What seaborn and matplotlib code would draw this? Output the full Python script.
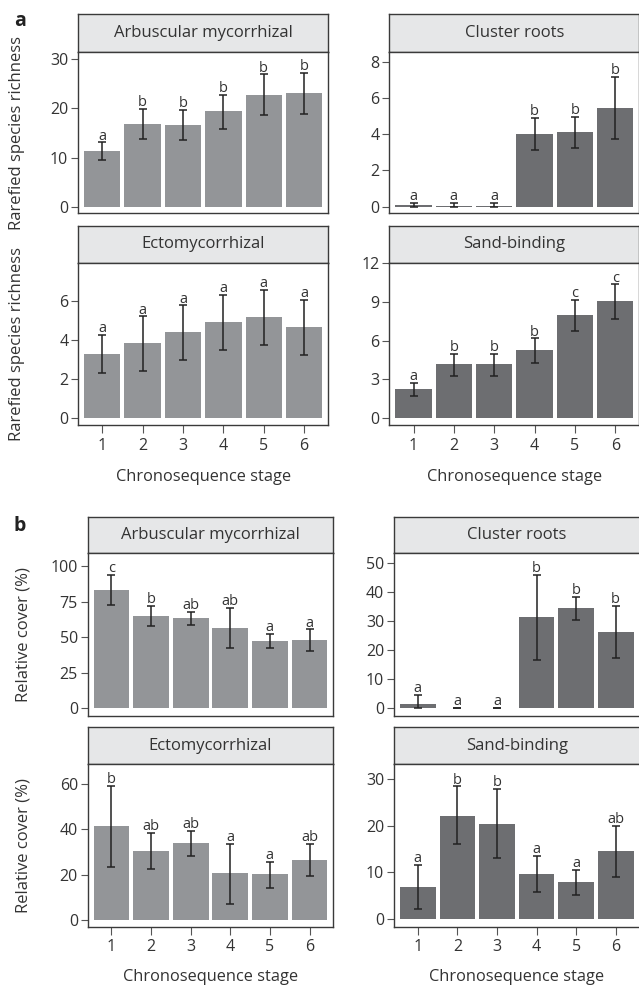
import matplotlib
matplotlib.use("Agg")
import matplotlib.pyplot as plt
import seaborn as sns
import pandas as pd
import numpy as np

sns.set_theme(style="white")
plt.rcParams['font.family'] = ['Open Sans', 'DejaVu Sans']

W, H = 639, 988
LIGHT = '#939598'
DARK = '#6d6e71'
STRIP = '#e6e7e8'
LINE = '#3a3a3a'
TEXT = '#333333'

stages = [1, 2, 3, 4, 5, 6]

# a: rarefied species richness
rich_am = [11.4, 16.8, 16.6, 19.5, 22.7, 23.1]
rich_am_lo = [9.5, 13.7, 13.6, 15.9, 18.7, 18.9]
rich_am_hi = [13.1, 19.9, 19.7, 22.8, 26.9, 27.2]
rich_am_let = ['a', 'b', 'b', 'b', 'b', 'b']

rich_cr = [0.08, 0.02, 0.02, 4.02, 4.11, 5.45]
rich_cr_lo = [0.0, 0.0, 0.0, 3.15, 3.23, 3.72]
rich_cr_hi = [0.22, 0.2, 0.2, 4.88, 4.97, 7.15]
rich_cr_let = ['a', 'a', 'a', 'b', 'b', 'b']

rich_ecm = [3.29, 3.85, 4.41, 4.93, 5.18, 4.67]
rich_ecm_lo = [2.30, 2.42, 2.98, 3.51, 3.77, 3.24]
rich_ecm_hi = [4.28, 5.22, 5.78, 6.31, 6.56, 6.05]
rich_ecm_let = ['a', 'a', 'a', 'a', 'a', 'a']

rich_sb = [2.23, 4.17, 4.17, 5.26, 7.98, 9.09]
rich_sb_lo = [1.66, 3.27, 3.27, 4.27, 6.74, 7.67]
rich_sb_hi = [2.72, 4.98, 4.98, 6.17, 9.17, 10.37]
rich_sb_let = ['a', 'b', 'b', 'b', 'c', 'c']

# b: relative cover (%)
cov_am = [83.1, 64.9, 63.5, 56.4, 47.3, 47.8]
cov_am_lo = [72.8, 57.6, 58.3, 42.4, 42.4, 40.0]
cov_am_hi = [93.9, 72.1, 67.9, 70.5, 52.4, 55.5]
cov_am_let = ['c', 'b', 'ab', 'ab', 'a', 'a']

cov_cr = [1.4, 0.1, 0.1, 31.3, 34.4, 26.4]
cov_cr_lo = [0.0, 0.0, 0.0, 16.8, 30.5, 17.5]
cov_cr_hi = [4.7, 0.2, 0.2, 45.9, 38.3, 35.2]
cov_cr_let = ['a', 'a', 'a', 'b', 'b', 'b']

cov_ecm = [41.5, 30.3, 34.0, 20.6, 20.3, 26.3]
cov_ecm_lo = [23.5, 22.5, 28.1, 7.2, 14.3, 19.4]
cov_ecm_hi = [59.2, 38.5, 39.4, 33.7, 25.7, 33.7]
cov_ecm_let = ['b', 'ab', 'ab', 'a', 'a', 'ab']

cov_sb = [6.9, 22.1, 20.4, 9.6, 7.9, 14.5]
cov_sb_lo = [2.1, 16.1, 13.0, 5.8, 5.2, 9.1]
cov_sb_hi = [11.6, 28.4, 27.8, 13.5, 10.5, 19.9]
cov_sb_let = ['a', 'b', 'b', 'a', 'a', 'ab']

fig = plt.figure(figsize=(W / 100, H / 100), dpi=100)


def add_px(x0, y0, x1, y1):
    return fig.add_axes([x0 / W, 1 - y1 / H, (x1 - x0) / W, (y1 - y0) / H])


def panel(box, strip_top, title, mean, lo, hi, letters, color, ylim, yticks,
          bottom=False, ylabel=None, ylab_x=None, xlab_y=None):
    x0, y0, x1, y1 = box
    sax = add_px(x0, strip_top, x1, y0)
    sax.set_facecolor(STRIP)
    sax.set_xticks([])
    sax.set_yticks([])
    for s in sax.spines.values():
        s.set_color(LINE)
        s.set_linewidth(1.0)
    sax.text(0.5, 0.5, title, ha='center', va='center', fontsize=12,
             color=TEXT, transform=sax.transAxes)

    ax = add_px(x0, y0, x1, y1)
    df = pd.DataFrame({'stage': stages, 'value': mean})
    sns.barplot(data=df, x='stage', y='value', ax=ax, color=color,
                saturation=1, width=0.9, native_scale=True, errorbar=None,
                linewidth=0)
    mean = np.array(mean)
    ax.errorbar(stages, mean, yerr=[mean - np.array(lo), np.array(hi) - mean],
                fmt='none', ecolor='#222222', elinewidth=1.1, capsize=2.8,
                capthick=1.1)
    for st, h, let in zip(stages, hi, letters):
        ax.annotate(let, (st, h), xytext=(0, 2), textcoords='offset points',
                    ha='center', va='baseline', fontsize=10.5, color=TEXT)
    ax.set_xlim(0.4, 6.6)
    ax.set_ylim(*ylim)
    ax.set_yticks(yticks)
    ax.set_xticks(stages)
    for s in ax.spines.values():
        s.set_color(LINE)
        s.set_linewidth(1.0)
    ax.tick_params(axis='y', left=True, length=5, width=0.8, color='#555555',
                   pad=2, labelsize=11.5, labelcolor=TEXT)
    if bottom:
        ax.tick_params(axis='x', bottom=True, length=6, width=0.8,
                       color='#555555', pad=3, labelsize=11.5,
                       labelcolor=TEXT)
        ax.set_xlabel('Chronosequence stage', fontsize=11.8, color=TEXT)
        ax.xaxis.set_label_coords(0.5, xlab_y)
    else:
        ax.tick_params(axis='x', bottom=False, labelbottom=False)
        ax.set_xlabel('')
    if ylabel:
        ax.set_ylabel(ylabel, fontsize=12, color=TEXT)
        ax.yaxis.set_label_coords(ylab_x, 0.5)
    else:
        ax.set_ylabel('')
    return ax


# panel a
panel((78, 52, 328.3, 213), 14, 'Arbuscular mycorrhizal', rich_am, rich_am_lo,
      rich_am_hi, rich_am_let, LIGHT, (-1.22, 31.44), [0, 10, 20, 30],
      ylabel='Rarefied species richness', ylab_x=-0.21)
panel((389.3, 52, 639.5, 213), 14, 'Cluster roots', rich_cr, rich_cr_lo,
      rich_cr_hi, rich_cr_let, DARK, (-0.35, 8.53), [0, 2, 4, 6, 8])
panel((78, 262.7, 328.3, 425), 226, 'Ectomycorrhizal', rich_ecm, rich_ecm_lo,
      rich_ecm_hi, rich_ecm_let, LIGHT, (-0.34, 7.96), [0, 2, 4, 6],
      bottom=True, ylabel='Rarefied species richness', ylab_x=-0.21,
      xlab_y=-0.27)
panel((389.3, 262.7, 639.5, 425), 226, 'Sand-binding', rich_sb, rich_sb_lo,
      rich_sb_hi, rich_sb_let, DARK, (-0.57, 12.05), [0, 3, 6, 9, 12],
      bottom=True, xlab_y=-0.27)

# panel b
panel((87.7, 553, 333.3, 715.7), 516.7, 'Arbuscular mycorrhizal', cov_am,
      cov_am_lo, cov_am_hi, cov_am_let, LIGHT, (-5.2, 109.3),
      [0, 25, 50, 75, 100], ylabel='Relative cover (%)', ylab_x=-0.23)
panel((394, 553, 639.5, 715.7), 516.7, 'Cluster roots', cov_cr, cov_cr_lo,
      cov_cr_hi, cov_cr_let, DARK, (-2.5, 53.5), [0, 10, 20, 30, 40, 50])
panel((87.7, 764.3, 333.3, 926.7), 727, 'Ectomycorrhizal', cov_ecm,
      cov_ecm_lo, cov_ecm_hi, cov_ecm_let, LIGHT, (-2.95, 68.7), [0, 20, 40, 60],
      bottom=True, ylabel='Relative cover (%)', ylab_x=-0.23, xlab_y=-0.26)
panel((394, 764.3, 639.5, 926.7), 727, 'Sand-binding', cov_sb, cov_sb_lo,
      cov_sb_hi, cov_sb_let, DARK, (-1.6, 33.1), [0, 10, 20, 30],
      bottom=True, xlab_y=-0.26)

fig.text(20 / W, 1 - 21 / H, 'a', fontsize=14, fontweight='bold', color='#222222',
         ha='center', va='center')
fig.text(20 / W, 1 - 526 / H, 'b', fontsize=14, fontweight='bold', color='#222222',
         ha='center', va='center')

fig.savefig('out.png', dpi=100)
